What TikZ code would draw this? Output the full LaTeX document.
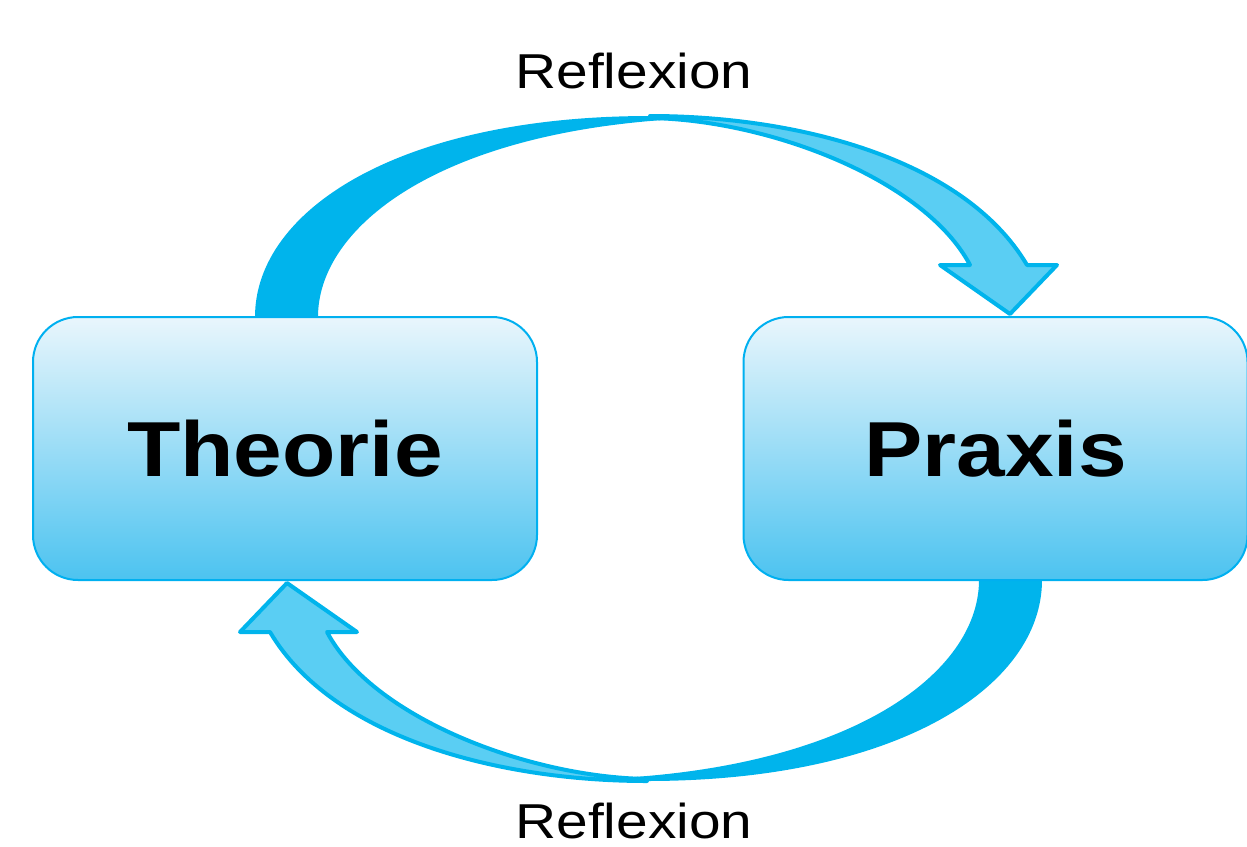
\documentclass[tikz,border=0pt]{standalone}
\usepackage{fontspec}
\setmainfont{Liberation Sans}
\newfontfamily\reflfont[FakeStretch=1.16]{Liberation Sans}
\newfontfamily\boxfont[FakeStretch=1.12]{Liberation Sans}
\definecolor{bandblue}{RGB}{0,180,236}
\definecolor{lightblue}{RGB}{90,206,243}
\definecolor{boxtop}{RGB}{233,246,252}
\definecolor{boxbot}{RGB}{76,195,240}
\definecolor{boxline}{RGB}{0,176,240}
\tikzset{
  box/.style={draw=boxline, line width=2pt, rounded corners=45pt,
    minimum width=504pt, minimum height=263pt, inner sep=0pt,
    top color=boxtop, bottom color=boxbot,
    font=\boxfont\bfseries\fontsize{78}{90}\selectfont},
  lbl/.style={anchor=base, inner sep=0pt, font=\reflfont\fontsize{49}{58}\selectfont},
  band/.style={fill=bandblue},
  head/.style={fill=lightblue, draw=bandblue, line width=4pt, line join=round}
}
\newcommand\reflarrowshape{%
  \fill[band] (255,317) .. controls (255,210) and (400,116) .. (650,116)
     -- (690,118) -- (650,121) .. controls (430,140) and (318,230) .. (318,317) -- cycle;
  \filldraw[head] (650,116) .. controls (800,116) and (965,160) .. (1027,265)
     -- (1057,265) -- (1010,314) -- (940,265) -- (970,265)
     .. controls (925,180) and (770,120) .. (650,118) -- cycle;
}
\begin{document}
\begin{tikzpicture}[x=1pt, y=-1pt]
  \useasboundingbox (0,0) rectangle (1247,846);
  \reflarrowshape
  \begin{scope}[rotate around={180:(648.5,448.5)}]
    \reflarrowshape
  \end{scope}
  \node[box] (theorie) at (285,448.5) {Theorie};
  \node[box] (praxis) at (995.5,448.5) {Praxis};
  \node[lbl] (refltop) at (634,88) {Reflexion};
  \node[lbl] (reflbot) at (634,838) {Reflexion};
\end{tikzpicture}
\end{document}
